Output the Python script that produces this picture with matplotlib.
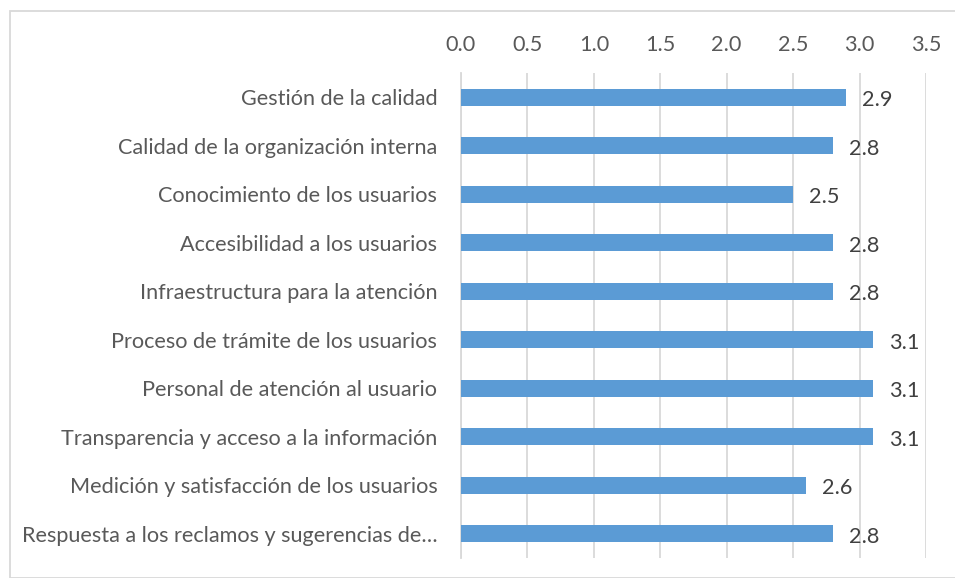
import matplotlib.pyplot as plt
from matplotlib.patches import Rectangle

categories = [
    "Gestión de la calidad",
    "Calidad de la organización interna",
    "Conocimiento de los usuarios",
    "Accesibilidad a los usuarios",
    "Infraestructura para la atención",
    "Proceso de trámite de los usuarios",
    "Personal de atención al usuario",
    "Transparencia y acceso a la información",
    "Medición y satisfacción de los usuarios",
    "Respuesta a los reclamos y sugerencias de…",
]
values = [2.9, 2.8, 2.5, 2.8, 2.8, 3.1, 3.1, 3.1, 2.6, 2.8]
ticks = [0.0, 0.5, 1.0, 1.5, 2.0, 2.5, 3.0, 3.5]

plt.rcParams["font.family"] = ["Lato", "DejaVu Sans"]
text_color = "#595959"
grid_color = "#d9d9d9"
fs = 15.6

fig = plt.figure(figsize=(9.55, 5.78), dpi=100)
ax = fig.add_axes([0.4827, 0.0346, 0.9696 - 0.4827, 0.8737 - 0.0346])

ypos = list(range(len(categories)))
ax.barh(ypos, values, height=0.36, color="#5b9bd5", zorder=3)
ax.set_ylim(len(categories) - 0.5, -0.5)
ax.set_xlim(0, 3.5)
ax.set_yticks(ypos)
ax.set_yticklabels(categories, fontsize=fs, color=text_color)
ax.set_xticks(ticks)
ax.set_xticklabels(["%.1f" % t for t in ticks], fontsize=fs, color=text_color)
ax.xaxis.tick_top()
ax.tick_params(axis="both", length=0)
ax.tick_params(axis="x", pad=13)
ax.tick_params(axis="y", pad=17)
ax.grid(axis="x", color=grid_color, lw=1.3, zorder=0)
for s in ["top", "right", "bottom"]:
    ax.spines[s].set_visible(False)
ax.spines["left"].set_color(grid_color)
ax.spines["left"].set_linewidth(1.3)

for y, v in zip(ypos, values):
    ax.text(v + 0.12, y + 0.06, "%.1f" % v, va="center", ha="left",
            fontsize=fs, color="#404040")

fig.patches.append(Rectangle((10 / 955, 0), 1, 1 - 11 / 578,
                             transform=fig.transFigure, fill=False,
                             edgecolor=grid_color, lw=1.3))

fig.savefig("out.png", dpi=100)
